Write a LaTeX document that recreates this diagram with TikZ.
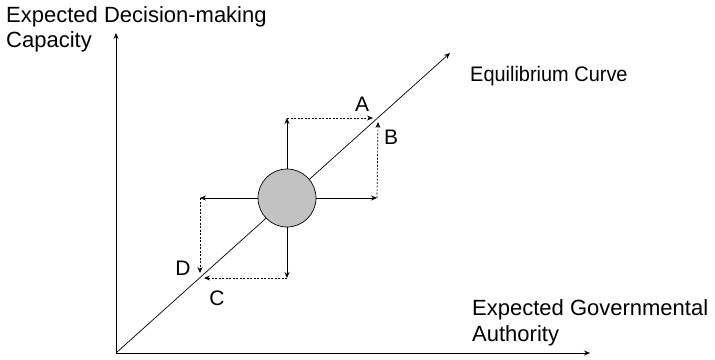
\documentclass[tikz,border=0pt]{standalone}
\usepackage{fontspec}
\setmainfont{Liberation Sans}
\newfontfamily\eqfont[FakeStretch=0.95]{Liberation Sans}
\usetikzlibrary{arrows.meta}
\begin{document}
\begin{tikzpicture}[x=1pt,y=-1pt,
  lbl/.style={font=\fontsize{22}{26}\selectfont, inner sep=0pt, anchor=base west},
  eqlbl/.style={font=\eqfont\fontsize{21}{25}\selectfont, inner sep=0pt, anchor=base west},
  letter/.style={font=\fontsize{21}{25}\selectfont, inner sep=0pt, anchor=base},
  arr/.style={-{Stealth[length=6pt,width=5pt,inset=2pt]}, line width=0.7pt},
  dasharr/.style={arr, dash pattern=on 2pt off 1.5pt},
  ]
\useasboundingbox (0,0) rectangle (715,359);
% coordinates
\coordinate (O) at (116,353);
\coordinate (Ytop) at (116,33);
\coordinate (Xend) at (590,353);
\coordinate (Eend) at (450,53);
% axes and equilibrium curve
\draw[arr] (O) -- (Ytop);
\draw[arr] (O) -- (Xend);
\draw[arr] (O) -- (Eend);
% circle
\node[circle, draw, line width=0.7pt, fill=black!24, minimum size=58pt, inner sep=0pt] (c) at (287,198) {};
% arrow ends
\coordinate (up) at (287,118);
\coordinate (right) at (377,198);
\coordinate (left) at (200,198);
\coordinate (down) at (287,278);
\coordinate (Atip) at (373,118);
\coordinate (Btip) at (378,122);
\coordinate (Dtip) at (200,273);
\coordinate (Ctip) at (204,278);
\draw[arr] (c.north) -- (up);
\draw[arr] (c.east) -- (right);
\draw[arr] (c.west) -- (left);
\draw[arr] (c.south) -- (down);
\draw[dasharr] (up) -- (Atip);
\draw[dasharr] (right) -- (Btip);
\draw[dasharr] (left) -- (Dtip);
\draw[dasharr] (down) -- (Ctip);
% labels
\node[lbl] (ylab1) at (6,22) {Expected Decision-making};
\node[lbl] (ylab2) at (6,47.5) {Capacity};
\node[lbl] (xlab1) at (472,315) {Expected Governmental};
\node[lbl] (xlab2) at (472,341) {Authority};
\node[eqlbl] (eq) at (470,81) {Equilibrium Curve};
\node[letter] (A) at (362,111) {A};
\node[letter] (B) at (391,144) {B};
\node[letter] (D) at (183,275) {D};
\node[letter] (C) at (217,305) {C};
\end{tikzpicture}
\end{document}
